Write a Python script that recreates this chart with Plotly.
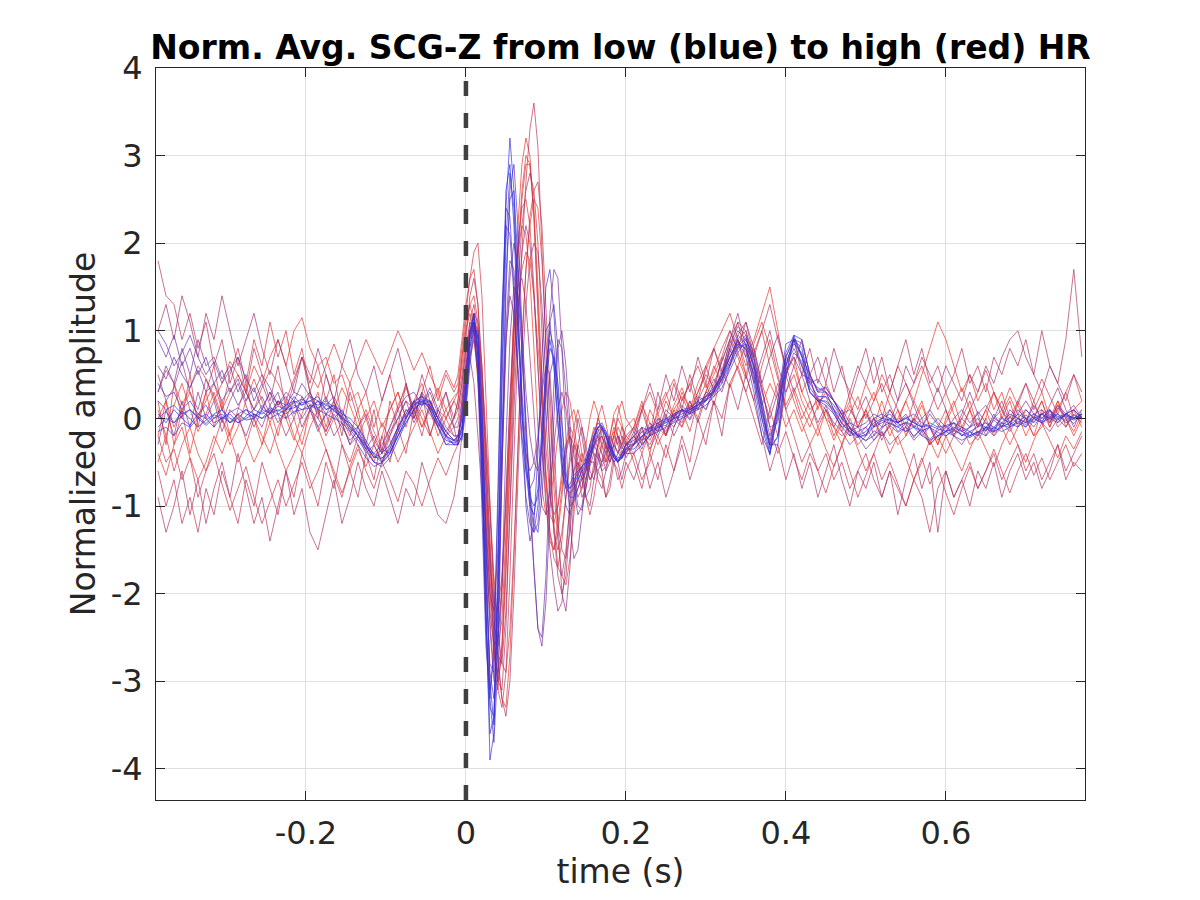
import numpy as np
import plotly.graph_objects as go

# ---- sample times (s): pre-beat, QRS/AO complex (finer), post ----
t_pre = np.linspace(-0.385, -0.015, 38)
t_mid = np.linspace(-0.01, 0.20, 43)
t_post = np.linspace(0.21, 0.77, 57)

# ---- normalized averaged SCG-Z traces (pre, mid, post segments) ----
# low HR (blue)
b1 = [
    [0.05,-0.05,0.1,0.0,-0.08,0.05,0.0,-0.1,0.02,-0.05,0.05,-0.02,0.0,0.08,0.0,0.05,0.1,0.12,0.18,0.2,0.15,0.2,0.12,0.05,0.0,-0.1,-0.25,-0.42,-0.5,-0.4,-0.2,0.0,0.15,0.22,0.1,-0.1,-0.25,-0.28],
    [-0.25,-0.15,0.3,0.9,1.2,0.8,-0.5,-2.3,-3.6,-3.4,-1.6,0.9,2.6,2.9,2.2,1.0,0.1,-0.6,-1.0,-1.1,-0.8,-0.1,0.6,0.9,0.6,0.0,-0.5,-0.8,-0.85,-0.8,-0.7,-0.6,-0.55,-0.4,-0.25,-0.1,-0.05,-0.15,-0.3,-0.42,-0.48,-0.45,-0.38],
    [-0.3,-0.2,-0.15,-0.1,-0.05,0.0,0.05,0.1,0.15,0.2,0.3,0.45,0.65,0.85,0.8,0.5,0.0,-0.4,0.1,0.75,0.95,0.7,0.3,0.2,0.2,0.1,-0.05,-0.15,-0.2,-0.15,-0.05,0.0,-0.02,-0.05,0.0,-0.05,-0.1,-0.08,-0.12,-0.15,-0.1,-0.15,-0.2,-0.15,-0.1,-0.12,-0.05,-0.08,0.0,-0.05,0.02,-0.03,0.05,0.0,0.03,-0.02,0.02],
]
b2 = [
    [-0.1,0.0,-0.05,0.08,0.0,-0.1,-0.02,0.05,0.1,0.0,-0.05,0.02,0.1,0.05,0.12,0.08,0.15,0.2,0.15,0.25,0.2,0.1,0.15,0.08,-0.05,-0.2,-0.35,-0.5,-0.55,-0.45,-0.25,-0.05,0.1,0.18,0.15,-0.05,-0.2,-0.3],
    [-0.3,-0.2,0.2,0.8,1.1,0.9,-0.2,-2.0,-3.9,-3.6,-1.9,0.5,2.4,3.2,2.6,1.3,0.2,-0.5,-0.9,-1.0,-0.9,-0.3,0.4,0.8,0.7,0.2,-0.3,-0.7,-0.8,-0.75,-0.65,-0.55,-0.5,-0.35,-0.2,-0.1,-0.1,-0.2,-0.35,-0.45,-0.5,-0.45,-0.35],
    [-0.35,-0.25,-0.2,-0.1,-0.08,0.0,0.02,0.08,0.12,0.2,0.28,0.4,0.6,0.8,0.85,0.6,0.1,-0.35,-0.2,0.6,0.9,0.8,0.4,0.25,0.25,0.15,0.0,-0.1,-0.2,-0.2,-0.1,-0.05,0.0,-0.08,-0.05,-0.1,-0.15,-0.1,-0.2,-0.15,-0.12,-0.2,-0.15,-0.2,-0.1,-0.15,-0.1,-0.05,-0.1,0.0,-0.05,0.05,0.0,-0.05,0.05,0.0,0.05],
]
b3 = [
    [0.2,0.1,0.15,0.05,0.1,0.0,0.05,-0.05,0.0,0.05,-0.05,0.0,0.05,0.0,0.1,0.05,0.0,0.08,0.1,0.12,0.2,0.15,0.1,0.0,-0.05,-0.15,-0.3,-0.4,-0.45,-0.38,-0.2,-0.05,0.1,0.2,0.2,0.0,-0.15,-0.25],
    [-0.2,-0.25,0.1,0.6,1.0,1.0,0.2,-1.4,-3.0,-3.5,-2.5,-0.3,1.6,2.5,2.6,1.8,0.7,-0.2,-0.8,-1.2,-1.3,-0.9,-0.1,0.5,0.7,0.4,-0.1,-0.6,-0.9,-0.9,-0.8,-0.7,-0.6,-0.45,-0.3,-0.15,-0.1,-0.15,-0.25,-0.4,-0.45,-0.45,-0.4],
    [-0.4,-0.3,-0.2,-0.15,-0.1,-0.05,0.0,0.05,0.1,0.15,0.25,0.35,0.55,0.75,0.9,0.7,0.2,-0.3,-0.3,0.45,0.95,0.9,0.5,0.3,0.3,0.2,0.05,-0.1,-0.2,-0.25,-0.2,-0.1,-0.05,-0.1,-0.15,-0.1,-0.2,-0.25,-0.2,-0.15,-0.2,-0.25,-0.2,-0.15,-0.2,-0.1,-0.15,-0.1,-0.05,-0.1,0.0,-0.05,0.0,0.05,-0.05,0.0,0.05],
]
b4 = [
    [-0.15,-0.1,-0.2,-0.05,-0.1,0.0,-0.08,0.0,0.05,-0.05,0.0,0.1,0.05,0.0,0.05,0.1,0.05,0.15,0.1,0.15,0.1,0.05,0.0,-0.05,-0.15,-0.3,-0.45,-0.55,-0.5,-0.3,-0.1,0.05,0.2,0.25,0.1,-0.1,-0.3,-0.3],
    [-0.25,-0.1,0.4,1.0,1.1,0.5,-1.0,-2.6,-3.2,-2.6,-0.8,1.2,2.4,2.3,1.5,0.5,-0.2,-0.6,-0.8,-0.7,-0.3,0.4,1.0,1.1,0.6,-0.1,-0.6,-0.8,-0.75,-0.65,-0.6,-0.55,-0.45,-0.3,-0.15,-0.05,-0.1,-0.2,-0.35,-0.45,-0.5,-0.4,-0.3],
    [-0.25,-0.15,-0.1,-0.05,0.0,0.05,0.1,0.12,0.2,0.25,0.35,0.5,0.7,0.9,0.7,0.3,-0.2,-0.4,0.2,0.85,0.9,0.6,0.3,0.2,0.15,0.05,-0.1,-0.2,-0.15,-0.1,0.0,0.05,0.0,-0.05,0.02,-0.05,-0.1,-0.05,-0.1,-0.08,-0.05,-0.1,-0.15,-0.1,-0.05,-0.1,0.0,-0.05,0.05,0.0,0.05,0.0,0.08,0.02,0.05,0.0,0.05],
]
b5 = [
    [0.4,0.25,0.3,0.1,0.2,0.05,0.15,0.0,0.1,-0.05,0.05,0.1,0.0,0.15,0.05,0.2,0.1,0.25,0.15,0.2,0.25,0.1,0.15,0.0,-0.1,-0.2,-0.3,-0.45,-0.4,-0.3,-0.1,0.05,0.2,0.15,0.2,0.0,-0.2,-0.25],
    [-0.2,0.0,0.5,1.0,1.2,0.7,-0.6,-2.2,-3.3,-3.4,-2.0,0.3,2.0,2.8,2.4,1.2,0.0,-1.0,-1.4,-1.2,-0.4,0.7,1.5,1.7,1.2,0.3,-0.5,-1.0,-1.1,-0.9,-0.7,-0.6,-0.5,-0.4,-0.3,-0.25,-0.2,-0.3,-0.4,-0.5,-0.45,-0.4,-0.3],
    [-0.2,-0.1,-0.15,0.0,-0.05,0.05,0.1,0.05,0.15,0.25,0.3,0.5,0.75,0.95,0.85,0.45,0.0,-0.3,0.0,0.65,0.85,0.75,0.45,0.35,0.3,0.2,0.1,-0.05,-0.1,-0.05,0.05,0.0,0.05,-0.05,0.0,0.05,-0.05,-0.1,0.0,-0.1,-0.05,-0.15,-0.1,-0.05,-0.1,0.0,-0.05,0.05,0.0,0.1,0.0,0.05,0.1,0.0,0.05,0.1,0.0],
]
b6 = [
    [0.0,0.08,-0.05,0.03,0.1,0.02,-0.06,0.04,0.0,0.07,0.12,0.05,0.02,0.1,0.06,0.14,0.1,0.18,0.22,0.16,0.12,0.18,0.08,0.02,-0.08,-0.2,-0.32,-0.44,-0.46,-0.34,-0.15,0.02,0.16,0.2,0.12,-0.04,-0.2,-0.26],
    [-0.22,-0.1,0.35,0.95,1.15,0.7,-0.7,-2.4,-3.1,-2.7,-1.0,1.1,2.2,2.1,1.4,0.5,-0.3,-0.9,-1.2,-1.3,-1.0,-0.3,0.5,1.0,0.8,0.2,-0.4,-0.75,-0.8,-0.7,-0.62,-0.55,-0.5,-0.38,-0.22,-0.1,-0.08,-0.18,-0.32,-0.44,-0.5,-0.44,-0.36],
    [-0.28,-0.2,-0.12,-0.08,-0.02,0.03,0.08,0.1,0.16,0.22,0.32,0.48,0.7,0.88,0.78,0.4,-0.1,-0.42,0.05,0.7,0.92,0.72,0.35,0.22,0.18,0.08,-0.06,-0.16,-0.22,-0.18,-0.08,-0.02,-0.06,-0.1,-0.04,-0.08,-0.14,-0.1,-0.16,-0.2,-0.14,-0.18,-0.22,-0.16,-0.12,-0.16,-0.08,-0.1,-0.03,-0.07,0.0,-0.05,0.03,-0.02,0.04,0.0,0.02],
]
b7 = [
    [0.6,0.45,0.7,0.5,0.35,0.55,0.3,0.4,0.2,0.35,0.15,0.3,0.1,0.25,0.05,0.2,0.15,0.3,0.25,0.1,0.2,0.05,0.12,-0.02,-0.12,-0.25,-0.38,-0.5,-0.52,-0.4,-0.2,0.0,0.18,0.26,0.14,-0.06,-0.22,-0.3],
    [-0.3,-0.2,0.15,0.7,1.05,0.95,0.1,-1.6,-3.2,-3.7,-2.8,-0.6,1.4,2.6,2.9,2.2,1.0,-0.1,-0.9,-1.3,-1.2,-0.6,0.3,1.1,1.3,0.8,0.0,-0.7,-1.0,-0.95,-0.8,-0.65,-0.55,-0.45,-0.35,-0.2,-0.12,-0.2,-0.32,-0.42,-0.48,-0.42,-0.34],
    [-0.3,-0.22,-0.1,-0.14,0.0,-0.04,0.1,0.06,0.18,0.2,0.34,0.44,0.62,0.82,0.92,0.66,0.14,-0.32,-0.22,0.5,0.9,0.86,0.5,0.32,0.36,0.2,0.04,-0.12,-0.18,-0.26,-0.14,-0.2,-0.08,-0.16,-0.1,-0.2,-0.12,-0.24,-0.14,-0.08,-0.18,-0.1,-0.2,-0.06,-0.14,-0.02,-0.1,0.02,-0.06,0.04,-0.04,0.06,-0.02,0.05,-0.03,0.04,0.0],
]
# mid HR (purple)
p1 = [
    [0.9,0.7,0.95,0.6,0.8,0.5,0.7,0.4,0.55,0.3,0.45,0.2,0.35,0.1,0.3,0.15,0.25,0.05,0.2,0.3,0.1,0.25,0.0,0.1,-0.1,-0.2,-0.35,-0.4,-0.3,-0.1,0.1,0.25,0.3,0.15,0.35,0.1,-0.1,-0.2],
    [-0.2,0.0,0.4,0.9,1.1,0.7,-0.4,-1.8,-2.9,-3.2,-2.4,-0.6,1.0,1.8,1.7,1.0,0.3,-0.3,-1.0,-1.8,-2.4,-2.5,-1.8,-0.6,0.4,0.9,0.8,0.3,-0.3,-0.8,-1.1,-1.0,-0.7,-0.4,-0.3,-0.4,-0.5,-0.4,-0.3,-0.4,-0.5,-0.4,-0.3],
    [-0.2,-0.35,-0.1,-0.2,0.0,-0.1,0.1,0.0,0.2,0.1,0.35,0.5,0.8,1.0,0.9,0.6,0.2,-0.2,0.1,0.6,0.8,0.6,0.4,0.45,0.3,0.1,0.0,-0.15,-0.1,-0.2,0.0,-0.1,0.1,-0.05,-0.15,0.0,-0.2,-0.1,-0.25,-0.15,-0.05,-0.2,-0.1,0.0,-0.15,0.05,-0.1,0.1,0.0,-0.05,0.15,0.0,0.1,-0.05,0.05,0.15,0.0],
]
p2 = [
    [0.3,0.6,0.4,0.8,0.5,0.9,0.6,0.7,0.45,0.6,0.3,0.5,0.2,0.4,0.15,0.3,0.0,0.2,-0.1,0.1,0.0,-0.15,0.05,-0.1,-0.25,-0.15,-0.35,-0.2,-0.4,-0.15,0.0,0.2,0.1,0.3,0.15,0.0,-0.2,-0.1],
    [-0.1,0.2,0.6,1.0,1.0,0.5,-0.6,-1.9,-2.8,-2.9,-2.0,-0.5,0.8,1.6,2.0,1.7,1.0,0.3,-0.2,-0.5,-0.6,-0.3,0.4,1.2,1.7,1.6,0.8,-0.3,-1.2,-1.6,-1.5,-1.1,-0.7,-0.5,-0.5,-0.6,-0.5,-0.3,-0.2,-0.3,-0.4,-0.3,-0.2],
    [-0.1,-0.25,-0.05,-0.15,0.1,0.0,0.15,0.05,0.25,0.2,0.4,0.65,0.9,1.1,1.0,0.7,0.3,0.0,0.3,0.7,0.9,0.7,0.5,0.3,0.35,0.2,0.05,0.1,-0.05,0.05,-0.1,0.0,0.1,-0.05,0.05,-0.1,0.0,0.1,-0.05,-0.15,0.0,0.1,-0.05,0.05,0.15,0.0,0.1,-0.05,0.05,0.2,0.05,0.1,0.0,0.15,0.05,0.1,0.0],
]
p3 = [
    [-0.3,0.1,-0.2,0.2,-0.1,0.3,0.0,0.2,-0.15,0.1,0.0,-0.2,0.05,-0.1,0.15,-0.05,0.1,0.2,0.0,0.15,-0.1,0.05,-0.2,-0.05,-0.3,-0.2,-0.4,-0.3,-0.5,-0.35,-0.1,0.1,0.0,0.2,0.05,-0.1,-0.3,-0.25],
    [-0.3,-0.1,0.3,0.7,0.9,0.6,-0.2,-1.2,-2.0,-2.2,-1.5,-0.2,0.9,1.4,1.2,0.6,0.0,-0.4,-0.6,-0.5,-0.2,0.3,0.6,0.5,-0.2,-1.2,-2.0,-2.2,-1.7,-0.9,-0.3,-0.1,-0.3,-0.6,-0.7,-0.5,-0.3,-0.2,-0.4,-0.5,-0.4,-0.2,-0.3],
    [-0.3,-0.15,-0.25,-0.05,-0.15,0.05,-0.05,0.15,0.1,0.3,0.25,0.45,0.7,0.85,0.95,0.75,0.35,-0.1,-0.05,0.5,0.75,0.65,0.3,0.2,0.1,-0.05,-0.15,-0.3,-0.2,-0.35,-0.25,-0.15,-0.3,-0.2,-0.1,-0.25,-0.15,-0.3,-0.2,-0.1,-0.2,-0.3,-0.15,-0.25,-0.1,-0.2,-0.05,-0.15,0.0,-0.1,0.05,-0.05,-0.15,0.0,-0.1,0.05,-0.05],
]
p4 = [
    [1.0,0.85,0.6,0.75,0.95,0.7,0.5,0.65,0.4,0.55,0.7,0.45,0.3,0.5,0.35,0.15,0.3,0.2,0.4,0.25,0.05,0.15,0.25,0.05,-0.15,-0.1,-0.3,-0.45,-0.35,-0.4,-0.15,0.1,0.05,0.25,0.2,0.0,-0.15,-0.25],
    [-0.25,0.05,0.5,0.95,1.1,0.8,-0.1,-1.3,-2.4,-3.0,-3.0,-1.9,-0.3,0.9,1.5,1.4,0.8,0.0,-0.9,-1.7,-2.4,-2.6,-2.1,-1.1,0.0,0.8,1.0,0.6,-0.1,-0.7,-1.0,-1.05,-0.8,-0.55,-0.4,-0.45,-0.6,-0.55,-0.4,-0.3,-0.38,-0.46,-0.35],
    [-0.15,-0.3,-0.2,-0.05,-0.18,0.02,0.1,-0.02,0.15,0.25,0.3,0.55,0.85,1.05,0.95,0.55,0.05,-0.25,0.1,0.55,0.7,0.5,0.45,0.2,0.25,0.05,-0.1,-0.05,-0.2,-0.1,-0.25,-0.12,0.0,-0.15,-0.05,-0.22,-0.1,0.05,-0.08,-0.2,-0.12,0.0,-0.1,0.08,-0.05,-0.15,0.02,-0.08,0.1,0.0,-0.1,0.05,-0.05,0.12,0.02,-0.06,0.05],
]
p5 = [
    [0.5,0.2,0.35,0.65,0.3,0.1,0.45,0.25,-0.05,0.2,0.4,0.15,-0.1,0.1,0.3,0.05,-0.2,0.0,0.25,0.1,-0.15,0.05,0.2,-0.05,-0.3,-0.1,0.05,-0.25,-0.4,-0.2,0.0,0.2,-0.05,0.15,0.3,0.05,-0.15,0.0],
    [0.1,0.4,0.8,1.1,1.0,0.6,0.0,-0.8,-1.6,-2.3,-2.7,-2.8,-2.2,-1.1,0.2,1.2,1.9,2.2,2.0,1.4,0.6,-0.2,-0.9,-1.5,-1.9,-2.2,-2.1,-1.6,-0.9,-0.3,0.0,-0.2,-0.5,-0.7,-0.6,-0.3,-0.1,-0.3,-0.5,-0.4,-0.2,-0.3,-0.45],
    [-0.3,-0.1,-0.35,-0.15,0.05,-0.2,0.0,0.2,-0.05,0.25,0.45,0.3,0.6,0.95,1.1,0.8,0.4,0.7,0.95,0.6,0.3,0.5,0.2,-0.05,0.15,-0.1,0.1,-0.2,0.05,0.25,0.0,-0.25,-0.05,0.2,0.4,0.15,-0.1,0.1,0.35,0.1,-0.15,0.05,0.3,0.05,-0.2,0.0,0.2,-0.05,0.15,0.4,0.2,-0.05,0.15,0.35,0.1,-0.1,0.1],
]
# high HR (red)
r1 = [
    [1.8,1.4,1.3,0.9,1.2,0.8,1.1,0.6,0.9,0.4,0.7,0.3,0.8,0.5,0.2,0.6,0.1,0.4,0.7,0.3,0.0,0.5,0.2,-0.2,0.3,0.0,-0.3,0.1,-0.4,0.2,-0.1,0.4,0.0,0.3,-0.2,0.1,0.3,0.0],
    [0.2,0.5,0.9,1.4,1.6,1.3,0.6,-0.4,-1.5,-2.5,-3.0,-3.1,-2.4,-1.0,0.4,1.5,2.2,2.6,2.8,2.6,2.0,1.0,0.0,-0.8,-1.3,-1.5,-1.3,-0.9,-0.5,-0.3,-0.4,-0.6,-0.7,-0.5,-0.3,-0.2,-0.3,-0.5,-0.4,-0.2,-0.3,-0.1,-0.2],
    [-0.3,0.1,-0.2,0.3,0.0,0.4,0.1,0.5,0.2,0.6,0.3,0.7,1.0,0.8,1.1,0.7,1.0,1.3,0.9,0.6,0.9,0.5,0.8,0.4,0.7,0.3,0.6,0.2,0.5,0.8,0.4,0.7,0.3,0.6,0.9,0.5,0.8,0.4,0.6,0.3,0.5,0.8,0.4,0.6,0.3,0.7,0.5,0.8,0.6,0.9,0.5,1.0,0.6,0.4,0.9,1.7,0.7],
]
r2 = [
    [-0.6,-1.0,-0.7,-1.2,-0.9,-1.3,-0.8,-1.1,-0.6,-0.9,-1.2,-0.7,-1.0,-0.5,-0.8,-1.1,-0.6,-0.9,-0.4,-0.7,-1.0,-0.5,-0.8,-0.3,-0.6,-0.9,-0.4,-0.7,-0.2,-0.5,-0.1,-0.4,0.1,-0.2,0.2,-0.1,0.1,-0.1],
    [0.0,0.3,0.7,1.1,1.3,1.0,0.3,-0.8,-1.8,-2.6,-3.1,-3.3,-2.9,-1.8,-0.4,0.9,1.9,2.7,3.3,3.6,3.1,2.0,0.7,-0.4,-1.2,-1.7,-1.8,-1.5,-1.0,-0.6,-0.5,-0.7,-0.9,-0.8,-0.5,-0.3,-0.4,-0.6,-0.5,-0.3,-0.2,-0.35,-0.25],
    [-0.5,-0.8,-0.4,-0.7,-0.3,-0.6,-0.2,-0.5,0.0,-0.3,0.2,0.0,0.4,0.6,0.3,0.0,-0.3,0.1,0.4,0.1,-0.2,-0.5,-0.3,-0.6,-0.4,-0.7,-0.5,-0.8,-0.6,-0.4,-0.7,-0.9,-0.6,-0.8,-1.0,-0.7,-0.9,-1.3,-0.8,-0.6,-0.9,-0.7,-0.5,-0.8,-0.6,-0.4,-0.7,-0.5,-0.3,-0.6,-0.4,-0.7,-0.5,-0.3,-0.6,-0.4,-0.2],
]
r3 = [
    [0.2,-0.3,0.4,0.0,0.5,-0.1,0.3,0.6,0.1,0.5,0.8,0.4,0.9,0.6,1.1,0.7,1.0,0.5,0.8,0.3,0.6,0.2,0.5,0.0,0.4,0.1,0.3,-0.1,0.2,0.5,0.1,0.4,0.0,0.3,0.6,0.2,0.5,0.3],
    [0.4,0.8,1.2,1.6,1.9,2.0,1.4,0.3,-1.0,-2.1,-2.6,-2.3,-1.3,0.0,1.2,2.0,2.4,2.5,2.2,1.5,0.6,-0.3,-1.0,-1.4,-1.5,-1.2,-0.8,-0.4,-0.2,-0.3,-0.6,-0.9,-0.8,-0.5,-0.2,-0.1,-0.3,-0.4,-0.2,0.0,-0.2,-0.3,-0.1],
    [0.0,-0.3,0.1,-0.1,0.2,0.0,0.3,0.1,0.4,0.6,0.8,1.0,1.2,0.9,0.5,0.2,0.6,0.9,0.5,0.1,0.3,0.0,0.2,-0.1,0.1,-0.2,0.0,0.2,-0.1,0.1,-0.2,0.0,0.3,0.1,-0.1,0.2,0.0,-0.3,-0.1,0.1,-0.2,0.0,0.2,-0.1,0.1,0.3,0.0,0.2,-0.1,0.1,0.0,0.2,-0.1,0.1,0.3,0.0,0.1],
]
r4 = [
    [-0.9,-1.3,-1.0,-0.6,-1.1,-0.7,-1.2,-0.8,-0.5,-0.9,-0.4,-0.8,-1.2,-0.9,-1.4,-1.0,-0.6,-1.1,-0.8,-1.3,-1.5,-1.1,-0.7,-1.2,-0.9,-0.5,-0.8,-1.0,-0.6,-0.9,-1.2,-0.8,-1.0,-0.5,-0.8,-1.1,-1.2,-0.9],
    [-0.6,-0.2,0.3,0.8,1.1,1.0,0.5,-0.3,-1.2,-2.0,-2.7,-3.2,-3.4,-3.0,-2.0,-0.7,0.5,1.3,1.8,2.0,1.9,1.3,0.4,-0.5,-1.3,-1.8,-2.0,-1.8,-1.2,-0.6,-0.3,-0.5,-0.9,-1.0,-0.7,-0.4,-0.6,-0.9,-0.7,-0.4,-0.5,-0.7,-0.5],
    [-0.7,-0.4,-0.8,-0.5,-0.9,-0.6,-0.3,-0.7,-0.4,-0.1,0.2,-0.2,0.4,0.1,0.5,0.2,-0.2,-0.6,-0.3,-0.7,-0.4,-0.8,-0.5,-0.9,-0.6,-0.3,-0.7,-1.0,-0.6,-0.8,-0.5,-0.9,-0.6,-1.1,-0.7,-0.4,-0.8,-0.5,-1.3,-0.6,-0.9,-0.7,-1.0,-0.6,-0.8,-0.5,-0.9,-0.6,-0.4,-0.7,-0.5,-0.8,-0.6,-0.3,-0.7,-0.5,-0.6],
]
r5 = [
    [-0.5,-0.2,-0.6,-0.3,-0.1,-0.4,-0.6,-0.3,0.0,-0.2,-0.5,-0.3,0.0,-0.2,-0.4,-0.1,0.1,-0.2,-0.4,-0.1,0.1,-0.2,0.0,-0.3,-0.5,-0.2,0.0,-0.3,-0.5,-0.2,0.1,-0.1,0.2,0.0,-0.2,0.1,0.0,0.2],
    [0.1,0.4,0.8,1.0,0.9,0.5,-0.2,-1.0,-1.7,-2.1,-2.2,-1.8,-1.0,-0.1,0.7,1.3,1.7,1.9,1.8,1.4,0.8,0.2,-0.4,-0.9,-1.1,-1.0,-0.7,-0.3,0.0,0.1,-0.1,-0.4,-0.6,-0.5,-0.2,0.0,-0.1,-0.3,-0.4,-0.2,0.0,-0.1,-0.3],
    [-0.4,-0.2,-0.3,-0.1,-0.2,0.0,-0.1,0.1,0.2,0.1,0.3,0.5,0.7,0.9,1.0,0.6,0.1,-0.3,0.2,0.7,0.6,0.3,0.1,0.2,0.0,-0.1,-0.2,-0.1,-0.3,-0.2,0.0,-0.2,-0.1,-0.3,-0.2,0.0,-0.1,-0.3,-0.2,-0.4,-0.2,-0.1,-0.3,-0.2,0.0,-0.2,-0.1,-0.3,-0.1,0.0,-0.2,-0.1,0.1,-0.1,0.0,-0.2,0.0],
]
r6 = [
    [0.0,0.2,-0.1,0.1,0.3,0.0,0.2,0.4,0.1,0.3,0.5,0.3,0.6,0.4,0.7,0.9,0.6,1.0,1.15,0.8,0.6,0.7,0.4,0.5,0.2,0.3,0.0,0.2,-0.1,0.1,0.3,0.0,0.2,-0.1,0.1,-0.2,0.0,-0.2],
    [-0.2,0.1,0.5,1.0,1.2,0.9,0.1,-1.0,-2.0,-2.7,-2.9,-2.6,-1.7,-0.4,0.9,1.9,2.6,3.0,2.9,2.3,1.3,0.2,-0.7,-1.3,-1.5,-1.3,-0.9,-0.4,-0.1,-0.2,-0.5,-0.7,-0.6,-0.3,-0.1,-0.2,-0.4,-0.5,-0.3,-0.1,-0.2,-0.4,-0.3],
    [-0.1,0.2,-0.2,0.1,0.3,0.0,0.2,0.4,0.1,0.3,0.6,0.4,0.8,1.1,0.7,0.9,1.2,1.5,1.0,0.5,0.7,0.3,0.5,0.1,0.4,0.2,0.0,0.3,0.1,0.4,0.2,0.5,0.3,0.6,0.4,0.2,0.5,0.8,1.1,0.9,0.6,0.3,0.5,0.2,0.4,0.1,0.3,0.0,0.2,0.4,0.1,0.3,0.0,0.2,-0.1,0.1,0.2],
]
r7 = [
    [1.0,1.3,0.9,1.4,1.1,0.7,1.2,0.9,1.4,1.0,0.6,0.9,1.2,0.8,0.5,0.9,0.6,0.3,0.7,0.4,0.8,0.5,0.2,0.6,0.9,0.5,0.3,0.6,0.2,0.5,0.8,0.4,0.1,0.5,0.2,0.0,0.3,-0.1],
    [-0.3,0.2,0.6,0.7,0.4,-0.2,-0.9,-1.6,-2.2,-2.6,-2.5,-1.9,-0.9,0.2,1.0,1.5,1.6,1.3,0.7,0.0,-0.6,-1.0,-1.1,-0.8,-0.3,0.1,0.3,0.1,-0.3,-0.7,-0.9,-0.8,-0.5,-0.3,-0.4,-0.7,-0.8,-0.6,-0.4,-0.5,-0.7,-0.6,-0.4],
    [-0.2,0.1,0.4,0.1,0.5,0.2,0.6,0.3,0.7,0.4,0.8,0.5,0.9,1.2,0.8,0.4,0.7,1.0,0.6,0.3,0.6,0.9,0.5,0.7,0.4,0.8,0.5,0.3,0.6,0.4,0.7,0.3,0.5,0.2,0.6,0.4,0.7,0.5,0.3,0.6,0.4,0.2,0.5,0.3,0.6,0.4,0.7,0.9,1.0,0.7,0.5,0.3,0.6,0.4,0.2,0.5,0.3],
]
r8 = [
    [-0.2,0.2,-0.3,0.1,-0.4,0.0,0.3,-0.1,0.2,-0.2,0.1,0.4,0.0,-0.3,0.1,-0.2,0.2,0.0,-0.3,0.1,0.3,-0.1,0.2,0.0,-0.2,0.1,-0.3,-0.5,-0.2,0.1,0.3,0.0,0.2,0.4,0.1,0.3,0.0,0.2],
    [0.3,0.6,1.0,1.3,1.4,1.1,0.4,-0.5,-1.4,-2.2,-2.8,-3.2,-3.3,-2.7,-1.6,-0.3,0.9,1.7,2.2,2.5,2.4,1.8,0.9,0.0,-0.8,-1.4,-1.8,-1.9,-1.6,-1.1,-0.6,-0.4,-0.5,-0.7,-0.6,-0.3,-0.2,-0.4,-0.5,-0.3,-0.1,-0.2,-0.4],
    [-0.3,-0.1,-0.4,0.0,-0.2,0.1,-0.1,0.2,0.0,0.3,0.5,0.7,0.6,0.9,0.6,0.8,0.4,0.1,-0.2,0.3,0.5,0.2,0.0,-0.2,0.1,-0.1,-0.3,0.0,-0.2,0.1,-0.1,0.2,-0.1,0.1,-0.2,0.0,0.2,-0.1,-0.3,0.0,0.2,-0.1,0.1,-0.2,0.0,0.3,0.1,-0.1,0.2,0.0,-0.2,0.1,-0.1,0.2,0.0,0.1,-0.1],
]
r9 = [
    [-0.2,-0.5,-0.35,-0.7,-0.45,-0.9,-0.6,-0.4,-0.75,-1.05,-0.8,-0.55,-0.9,-1.2,-0.95,-0.7,-1.0,-0.75,-0.5,-0.8,-0.6,-0.35,-0.65,-0.9,-0.55,-0.3,-0.6,-0.8,-0.5,-0.7,-0.95,-0.6,-0.75,-1.0,-0.7,-0.45,-0.65,-0.4],
    [-0.3,0.1,0.6,1.0,1.2,1.1,0.6,-0.2,-1.0,-1.8,-2.4,-2.8,-2.9,-2.4,-1.5,-0.3,0.8,1.7,2.3,2.6,2.7,2.2,1.3,0.3,-0.6,-1.2,-1.5,-1.6,-1.3,-0.8,-0.5,-0.6,-0.9,-1.1,-0.9,-0.6,-0.7,-0.9,-0.8,-0.5,-0.6,-0.8,-0.6],
    [-0.4,-0.7,-0.5,-0.2,-0.45,-0.1,0.1,-0.15,0.2,0.4,0.15,0.5,0.8,0.55,0.3,0.6,0.35,-0.1,-0.4,-0.15,-0.45,-0.7,-0.4,-0.6,-0.85,-0.55,-0.3,-0.6,-0.9,-0.65,-0.4,-0.7,-0.5,-0.75,-1.0,-0.7,-0.45,-0.75,-0.55,-0.85,-1.1,-0.8,-0.55,-0.8,-0.6,-0.35,-0.6,-0.85,-0.6,-0.4,-0.65,-0.45,-0.7,-0.5,-0.3,-0.55,-0.4],
]
r10 = [
    [0.3,0.55,0.4,0.15,0.35,0.6,0.45,0.2,0.4,0.65,0.5,0.3,0.1,0.35,0.55,0.4,0.2,0.45,0.7,0.5,0.35,0.6,0.85,0.6,0.4,0.65,0.9,0.7,0.5,0.75,1.0,0.8,0.55,0.75,0.5,0.3,0.55,0.35],
    [0.5,0.9,1.3,1.6,1.7,1.3,0.5,-0.6,-1.7,-2.6,-3.0,-2.7,-1.8,-0.6,0.7,1.8,2.5,2.9,2.9,2.4,1.5,0.4,-0.6,-1.3,-1.6,-1.7,-1.4,-0.9,-0.4,-0.1,0.1,-0.1,-0.4,-0.5,-0.3,0.0,0.15,-0.05,-0.3,-0.2,0.05,0.2,0.0],
    [-0.15,0.1,0.3,0.05,0.25,0.45,0.2,0.4,0.6,0.35,0.55,0.8,1.0,0.75,0.5,0.85,1.1,0.8,0.45,0.15,0.35,0.1,-0.1,0.15,0.3,0.1,-0.15,0.05,0.25,0.0,0.2,0.4,0.15,-0.05,0.2,0.4,0.6,0.35,0.1,0.3,0.05,-0.15,0.1,0.3,0.55,0.3,0.1,0.35,0.15,-0.05,0.2,0.45,0.25,0.05,0.3,0.5,0.2],
]
r11 = [
    [-0.4,-0.65,-0.3,-0.1,-0.45,-0.7,-0.5,-0.2,-0.4,-0.15,0.05,-0.25,-0.5,-0.3,-0.05,-0.35,-0.6,-0.4,-0.15,0.1,-0.1,-0.35,-0.6,-0.85,-0.6,-0.35,-0.55,-0.3,-0.05,-0.25,-0.5,-0.3,-0.1,0.1,-0.15,-0.4,-0.2,0.0],
    [0.2,0.7,1.1,1.3,1.1,0.5,-0.4,-1.4,-2.3,-2.9,-3.1,-2.6,-1.5,-0.1,1.2,2.2,2.9,3.2,3.0,2.3,1.2,0.1,-0.7,-1.1,-1.2,-1.0,-0.6,-0.3,-0.2,-0.4,-0.7,-0.8,-0.6,-0.3,-0.2,-0.35,-0.55,-0.45,-0.25,-0.15,-0.3,-0.45,-0.3],
    [-0.2,-0.4,-0.15,0.05,-0.2,0.1,0.25,0.05,0.3,0.5,0.35,0.65,0.9,0.7,0.45,0.75,1.0,0.6,0.25,0.5,0.2,-0.05,-0.3,-0.1,-0.35,-0.55,-0.3,-0.1,-0.35,-0.6,-0.4,-0.15,-0.4,-0.2,-0.45,-0.7,-0.5,-0.25,-0.45,-0.2,-0.4,-0.6,-0.35,-0.15,-0.35,-0.55,-0.3,-0.1,-0.3,-0.5,-0.25,-0.05,-0.25,-0.45,-0.2,-0.35,-0.15],
]
r12 = [
    [0.1,-0.2,0.15,0.4,0.1,-0.15,0.05,0.3,0.0,-0.3,-0.1,0.2,0.45,0.2,-0.05,0.2,0.0,-0.25,0.05,0.3,0.1,-0.15,0.1,0.35,0.15,-0.1,0.1,-0.15,-0.35,-0.1,0.15,0.35,0.1,-0.1,0.15,0.35,0.1,0.25],
    [0.3,0.7,1.0,1.2,1.0,0.4,-0.4,-1.3,-2.0,-2.4,-2.5,-2.0,-1.0,0.2,1.2,1.9,2.2,2.1,1.6,0.8,-0.1,-0.8,-1.1,-1.0,-0.6,-0.2,0.1,0.3,0.2,-0.1,-0.4,-0.5,-0.3,0.0,0.2,0.05,-0.2,-0.35,-0.2,0.05,0.15,-0.05,-0.25],
    [-0.1,0.15,-0.05,-0.3,-0.1,0.15,0.35,0.1,0.3,0.55,0.8,0.55,0.35,0.6,0.85,0.5,0.15,0.4,0.2,-0.1,0.1,-0.15,0.05,0.25,0.0,-0.25,-0.05,0.15,-0.1,0.1,0.3,0.05,-0.2,0.0,0.2,-0.05,0.15,-0.1,-0.3,-0.05,0.15,0.35,0.1,-0.1,0.1,-0.15,0.05,0.25,0.05,-0.2,0.0,0.2,-0.05,0.15,0.0,-0.15,0.05],
]

traces = [r12, r8, r6, r11, r5, r10, r3, r9, r2, r1, r4, r7, p5, p3, p2, p4, p1,
          b7, b6, b5, b4, b3, b2, b1]
hr_rank = [1.0, 0.97, 0.95, 0.92, 0.9, 0.88, 0.85, 0.8, 0.75, 0.7, 0.65, 0.6, 0.55, 0.5,
           0.45, 0.4, 0.35, 0.3, 0.25, 0.2, 0.15, 0.1, 0.05, 0.0]

x_ticks = [-0.2, 0, 0.2, 0.4, 0.6]
x_ticktext = ["-0.2", "0", "0.2", "0.4", "0.6"]
y_ticks = [-4, -3, -2, -1, 0, 1, 2, 3, 4]
y_ticktext = ["-4", "-3", "-2", "-1", "0", "1", "2", "3", "4"]

BLUE = (35, 45, 235)
RED = (240, 50, 30)


def mix(f):
    c = [round(BLUE[i] + (RED[i] - BLUE[i]) * f) for i in range(3)]
    return f"rgba({c[0]},{c[1]},{c[2]},0.68)"


fig = go.Figure()
t_segs = [t_pre, t_mid, t_post]
for tr, f in zip(traces, hr_rank):
    xs, ys = [], []
    for seg_t, seg_v in zip(t_segs, tr):
        n = min(len(seg_t), len(seg_v))
        xs.extend(list(seg_t[:n]))
        ys.extend(seg_v[:n])
    fig.add_trace(go.Scatter(x=xs, y=ys, mode="lines",
                             line=dict(color=mix(f), width=1),
                             showlegend=False, hoverinfo="skip"))

fig.add_vline(x=0, line=dict(color="#404040", width=4.5, dash="15px,17px"))

axis_common = dict(
    showline=True, linecolor="#262626", linewidth=1, mirror="ticks",
    ticks="inside", ticklen=9, tickwidth=1, tickcolor="#262626",
    showgrid=True, gridcolor="#dfdfdf", gridwidth=1, zeroline=False,
    tickfont=dict(family="DejaVu Sans", size=32, color="#262626"),
)

fig.update_layout(
    width=1200, height=900,
    paper_bgcolor="white", plot_bgcolor="white",
    margin=dict(l=148, r=123, t=60, b=108),
    title=dict(text="<b>Norm. Avg. SCG-Z from low (blue) to high (red) HR</b>",
               x=0.5, xref="paper", xanchor="center",
               y=1.0, yref="paper", yanchor="bottom", pad=dict(b=9),
               font=dict(family="DejaVu Sans", size=33, color="black")),
    xaxis=dict(range=[-0.3875, 0.774], tickvals=x_ticks, ticktext=x_ticktext,
               ticklabelstandoff=5,
               title=dict(text="time (s)", standoff=2,
                          font=dict(family="DejaVu Sans", size=33, color="#262626")),
               **axis_common),
    yaxis=dict(range=[-4.356, 4.0], tickvals=y_ticks, ticktext=y_ticktext,
               ticklabelstandoff=6,
               title=dict(text="Normalized amplitude", standoff=5,
                          font=dict(family="DejaVu Sans", size=33, color="#262626")),
               **axis_common),
)

fig.write_html("out.html")
